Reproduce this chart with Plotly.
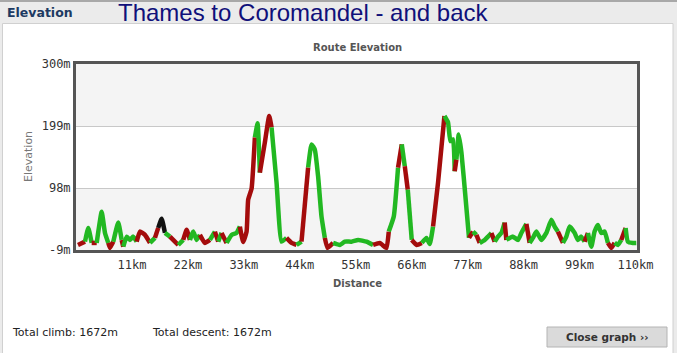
import plotly.graph_objects as go

# ---- data ----
distance_km = [0.39, 1.77, 2.42, 3.08, 4.07, 5.05, 5.70, 6.35, 6.68, 7.33,
               8.31, 8.98, 9.29, 9.96, 10.61, 11.26, 11.93, 12.57, 13.56, 14.54,
               15.52, 16.17, 16.84, 17.49, 18.47, 19.45, 20.10, 21.08, 21.75, 22.40,
               23.05, 23.71, 24.36, 25.34, 26.33, 27.31, 27.96, 28.62, 29.61, 30.59,
               31.57, 32.22, 32.87, 33.54, 33.85, 34.52, 35.17, 35.70, 36.15, 37.13,
               37.98, 38.45, 39.43, 40.41, 41.39, 42.38, 43.36, 44.34, 45.64, 46.31,
               46.95, 47.60, 48.27, 48.92, 49.45, 50.55, 51.87, 52.85, 54.17, 55.46,
               57.11, 58.41, 59.72, 61.04, 61.49, 62.48, 63.32, 64.05, 64.64, 65.23,
               66.01, 67.00, 67.98, 68.90, 69.55, 70.20, 71.18, 72.44, 73.14, 73.61,
               74.13, 74.46, 74.79, 75.25, 75.78, 76.62, 77.27, 78.06, 78.72, 79.37,
               80.35, 81.00, 81.67, 82.32, 82.97, 83.64, 84.28, 84.62, 85.27, 85.91,
               86.90, 87.56, 88.55, 89.19, 89.84, 90.51, 91.49, 92.48, 93.46, 94.11,
               94.75, 95.74, 96.41, 97.05, 98.04, 98.69, 99.35, 100.00, 100.65, 101.32,
               101.96, 102.61, 103.28, 103.93, 104.58, 105.25, 105.89, 106.54, 107.21, 108.06,
               108.51, 109.49, 110.16]
elevation_m = [5.2, 10.6, 33.0, 8.5, 8.5, 59.2, 24.8, 8.5, 0.3, 10.6,
               41.7, 13.4, 2.4, 18.8, 13.4, 18.8, 10.6, 27.0, 21.6, 8.5,
               16.7, 33.0, 47.8, 24.8, 18.8, 10.6, 5.2, 13.4, 29.8, 13.4,
               27.0, 13.4, 21.6, 8.5, 13.4, 27.0, 10.6, 24.8, 8.5, 21.6,
               24.8, 35.2, 10.0, 27.0, 78.9, 96.9, 180.4, 203.4, 123.1, 172.2,
               215.3, 196.8, 106.7, 10.6, 16.7, 8.5, 5.2, 10.6, 131.3, 169.0,
               160.8, 117.0, 51.5, 16.7, 0.3, 8.5, 5.2, 10.6, 10.6, 13.4,
               10.6, 5.2, 8.5, 0.3, 27.0, 51.5, 131.3, 169.0, 133.4, 95.3,
               13.4, 5.2, 8.5, 16.7, 6.8, 35.2, 106.7, 215.3, 205.0, 174.4,
               177.2, 125.2, 144.4, 185.3, 155.9, 78.9, 16.7, 27.0, 21.6, 8.5,
               13.4, 18.8, 24.8, 10.6, 18.8, 24.8, 41.7, 13.4, 16.7, 18.8,
               13.4, 24.8, 39.6, 8.5, 16.7, 27.0, 13.4, 24.8, 46.1, 35.2,
               27.0, 8.5, 18.8, 35.2, 24.8, 13.4, 18.8, 10.6, 24.8, 2.4,
               27.0, 37.9, 24.8, 27.0, 8.5, 0.3, 8.5, 5.2, 13.4, 33.0,
               10.6, 8.5, 8.5]
# segment class between consecutive points: g / r / k
segment_class = ("rggrgggrrg" "grggggrrrg" "rkkgrrgrrg" "ggrrgrgrgg" "grrrrrggrr"
                 "rgggrrgrgg" "gggrrggggg" "grrrggrgrg" "rrgggrrggg" "grggggrgrg"
                 "ggrgggrggg" "ggrggggggg" "rggggggrgg" "ggggrrggrg" "gg")
x_tick_vals = [11, 22, 33, 44, 55, 66, 77, 88, 99, 110]
x_tick_text = ["11km", "22km", "33km", "44km", "55km", "66km", "77km", "88km", "99km", "110km"]
y_tick_vals = [-3, 98, 199, 300]
y_tick_text = ["-9m", "98m", "199m", "300m"]
total_climb = "1672m"
total_descent = "1672m"

# ---- layout geometry (pixels) ----
W, H = 677, 353
L, R, T, B = 76, 637, 64, 250


def px(x):
    return (x - L) / (R - L)


def py(y):
    return (B - y) / (B - T)


colors = {"g": "#22b822", "r": "#a40c0c", "k": "#111111"}

fig = go.Figure()

runs = []
start = 0
for i in range(1, len(segment_class) + 1):
    if i == len(segment_class) or segment_class[i] != segment_class[start]:
        runs.append((start, i, segment_class[start]))
        start = i
for s, e, c in runs:
    fig.add_trace(go.Scatter(
        x=distance_km[s:e + 1], y=elevation_m[s:e + 1], mode="lines",
        line=dict(color=colors[c], width=4.5, shape="spline", smoothing=0.4),
        hoverinfo="skip", showlegend=False))

shapes = [
    dict(type="rect", xref="paper", yref="paper", x0=px(0), x1=px(W), y0=py(23), y1=py(0),
         fillcolor="#ebebeb", line=dict(width=0), layer="below"),
    dict(type="rect", xref="paper", yref="paper", x0=px(0), x1=px(W), y0=py(2), y1=py(0),
         fillcolor="#a8a8a8", line=dict(width=0), layer="below"),
    dict(type="rect", xref="paper", yref="paper", x0=px(2.5), x1=px(673), y0=py(W), y1=py(23.5),
         fillcolor="white", line=dict(color="#d0d0d0", width=1), layer="below"),
    dict(type="rect", xref="paper", yref="y", x0=0, x1=1, y0=199, y1=300,
         fillcolor="#f4f4f4", line=dict(width=0), layer="below"),
    dict(type="rect", xref="paper", yref="y", x0=0, x1=1, y0=-3, y1=98,
         fillcolor="#f4f4f4", line=dict(width=0), layer="below"),
    dict(type="rect", xref="paper", yref="paper", x0=px(547), x1=px(667), y0=py(347), y1=py(327),
         fillcolor="#dadada", line=dict(color="#b4b4b4", width=1), layer="below"),
]

ann = [
    dict(text="<b>Elevation</b>", x=px(5), y=py(12), xanchor="left", yanchor="middle",
         font=dict(family="DejaVu Sans", size=12.5, color="#1d3a62")),
    dict(text="Thames to Coromandel - and back", x=px(116), y=py(12), xanchor="left", yanchor="middle",
         font=dict(family="Liberation Sans", size=24, color="#10107a")),
    dict(text="<b>Route Elevation</b>", x=px(357), y=py(47), xanchor="center", yanchor="middle",
         font=dict(family="DejaVu Sans", size=10, color="#555555")),
    dict(text="Elevation", x=px(28), y=py(157), xanchor="center", yanchor="middle", textangle=-90,
         font=dict(family="DejaVu Sans", size=11, color="#777777")),
    dict(text="<b>Distance</b>", x=px(357), y=py(283), xanchor="center", yanchor="middle",
         font=dict(family="DejaVu Sans", size=10, color="#555555")),
    dict(text="Total climb: " + total_climb, x=px(10), y=py(332), xanchor="left", yanchor="middle",
         font=dict(family="DejaVu Sans", size=11, color="#222222")),
    dict(text="Total descent: " + total_descent, x=px(150), y=py(332), xanchor="left", yanchor="middle",
         font=dict(family="DejaVu Sans", size=11, color="#222222")),
    dict(text="<b>Close graph ››</b>", x=px(607), y=py(337), xanchor="center", yanchor="middle",
         font=dict(family="DejaVu Sans", size=10.5, color="#333333")),
]
for a in ann:
    a.update(xref="paper", yref="paper", showarrow=False)

fig.update_layout(
    width=W, height=H,
    margin=dict(l=L, r=W - R, t=T, b=H - B, pad=0),
    paper_bgcolor="#ebebeb", plot_bgcolor="white",
    shapes=shapes, annotations=ann,
    xaxis=dict(range=[0, 110.3], tickvals=x_tick_vals, ticktext=x_tick_text,
               showgrid=False, zeroline=False, showline=True, mirror=True,
               linecolor="#555555", linewidth=3, ticks="", ticklabelstandoff=2,
               tickfont=dict(family="DejaVu Sans Mono", size=12, color="#333333"), fixedrange=True),
    yaxis=dict(range=[-3, 300], tickvals=y_tick_vals, ticktext=y_tick_text,
               showgrid=True, gridcolor="#c8c8c8", gridwidth=1, zeroline=False,
               showline=True, mirror=True, linecolor="#555555", linewidth=3, ticks="",
               tickfont=dict(family="DejaVu Sans Mono", size=12, color="#333333"), fixedrange=True),
)

fig.write_html("out.html", config={"displayModeBar": False})
